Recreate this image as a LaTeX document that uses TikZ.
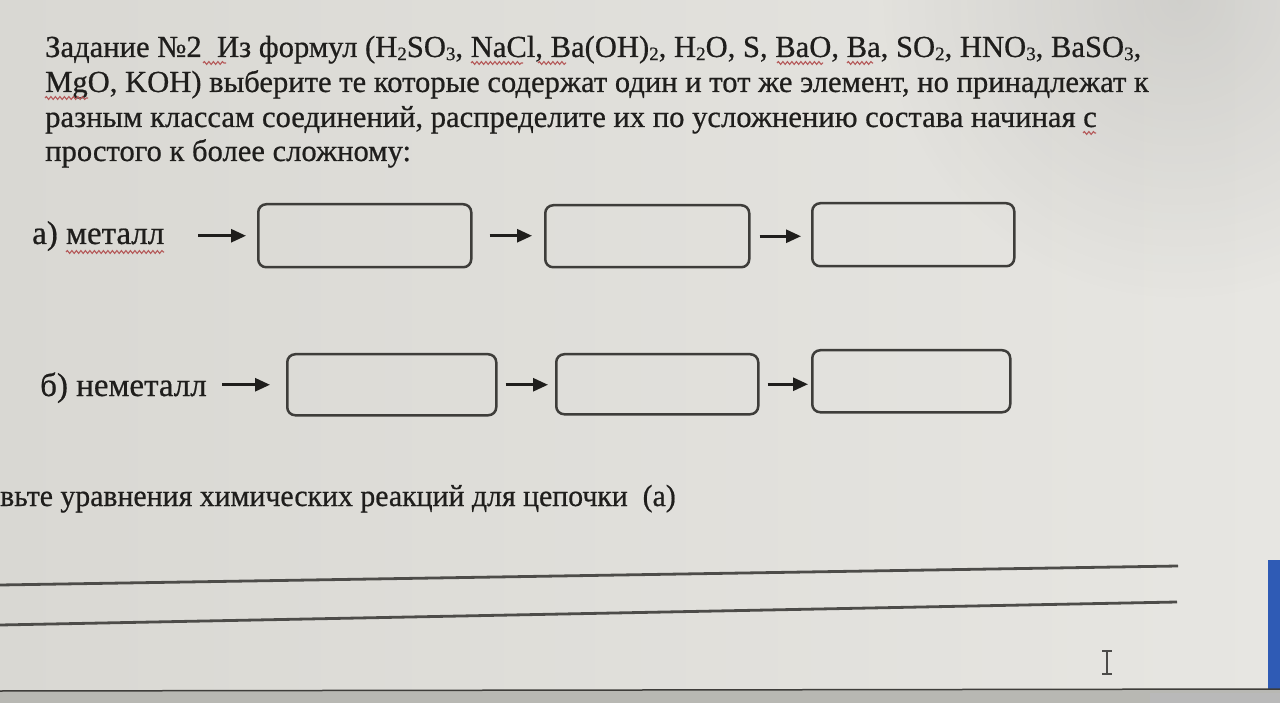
\documentclass[tikz,border=0pt]{standalone}
\usepackage{fontspec}
\setmainfont{Liberation Serif}[FakeBold=0.6]
\usetikzlibrary{arrows.meta,decorations.pathmorphing,calc,fadings}
\definecolor{paper}{HTML}{D9D8D3}
\definecolor{paperlight}{HTML}{E7E6E2}
\definecolor{ink}{HTML}{1F1E1C}
\definecolor{boxline}{HTML}{3E3D3A}
\definecolor{squig}{HTML}{B55A5A}
\definecolor{winblue}{HTML}{2F5BB5}
\tikzfading[name=softglow, inner color=transparent!0, outer color=transparent!100]
\newcommand{\sbs}[1]{\raisebox{-0.22ex}{\fontsize{19}{20}\selectfont #1}}
\tikzset{
  txt/.style={anchor=base west,inner sep=0pt,text=ink,font=\fontsize{30.6}{36}\selectfont},
  bigtxt/.style={txt,font=\fontsize{33}{38}\selectfont},
  narrowtxt/.style={txt,font=\fontsize{30.6}{36}\selectfont\addfontfeature{FakeStretch=0.974}},
  chainbox/.style={draw=boxline,line width=2.5pt,rounded corners=8pt,anchor=north west,inner sep=0pt},
  arr/.style={draw=ink,line width=2.8pt,-{Triangle[length=15pt,width=13pt]}},
  wavy/.style={draw=squig,line width=1.1pt,decorate,decoration={snake,amplitude=1.4pt,segment length=4.5pt}},
  rule/.style={draw=boxline!90!paper,line width=2.8pt},
}
\begin{document}
\begin{tikzpicture}[x=1pt,y=-1pt]
\useasboundingbox (0,0) rectangle (1280,703);
% background
\shade[left color=paper,right color=paperlight] (0,0) rectangle (1280,703);
\fill[black!70,opacity=0.14,path fading=softglow] (880,-300) rectangle (1480,300);
% blue window edge and status bar
\fill[winblue] (1268,560) rectangle (1280,692);
\fill[paper!85!black] (0,690) rectangle (1280,703);
\draw[boxline,line width=1.5pt] (0,691) -- (1280,689);
\fill[gray!55] (1150,693) rectangle (1280,703);

% task text
\node[txt] (t1) at (45,57) {Задание №2\ \ Из формул (H\sbs{2}SO\sbs{3}, NaCl, Ba(OH)\sbs{2}, H\sbs{2}O, S, BaO, Ba, SO\sbs{2}, HNO\sbs{3}, BaSO\sbs{3},};
\node[txt] (t2) at (45,92) {MgO, KOH) выберите те которые содержат один и тот же элемент, но принадлежат к};
\node[txt] (t3) at (45,127) {разным классам соединений, распределите их по усложнению состава начиная с};
\node[txt] (t4) at (45,161) {простого к более сложному:};

% row a
\node[bigtxt] (la) at (32,244) {а) металл};
\node[chainbox,minimum width=213pt,minimum height=63pt] (a1) at (257,203) {};
\node[chainbox,minimum width=204pt,minimum height=62pt] (a2) at (544,204) {};
\node[chainbox,minimum width=202pt,minimum height=63pt] (a3) at (811,202) {};
\draw[arr] ([xshift=-59pt]a1.west) -- ([xshift=-11pt]a1.west);
\draw[arr] ([xshift=17pt]a1.east) -- ([xshift=-12pt]a1.east -| a2.west);
\draw[arr] ([xshift=9pt]a2.east) -- ([xshift=-10pt]a2.east -| a3.west);

% row b
\node[bigtxt] (lb) at (40,396) {б) неметалл};
\node[chainbox,minimum width=209pt,minimum height=61pt] (b1) at (286,353) {};
\node[chainbox,minimum width=202pt,minimum height=60pt] (b2) at (555,353) {};
\node[chainbox,minimum width=198pt,minimum height=62pt] (b3) at (811,349) {};
\draw[arr] ([xshift=-64pt]b1.west) -- ([xshift=-16pt]b1.west);
\draw[arr] ([xshift=8pt]b1.east) -- ([xshift=-7pt]b1.east -| b2.west);
\draw[arr] ([xshift=8pt]b2.east) -- ([xshift=-3pt]b2.east -| b3.west);

% second task line
\node[narrowtxt] (t5) at (0,506) {вьте уравнения химических реакций для цепочки\ \ (а)};

% answer rules
\coordinate (r1s) at (0,585);
\coordinate (r1e) at (1178,566);
\coordinate (r2s) at (0,625);
\coordinate (r2e) at (1177,602);
\draw[rule] (r1s) -- (r1e);
\draw[rule] (r2s) -- (r2e);

% spell-check squiggles
\draw[wavy] (203,63) -- (226,63);
\draw[wavy] (471,63) -- (523,63);
\draw[wavy] (538,63) -- (566,63);
\draw[wavy] (777,63) -- (823,63);
\draw[wavy] (847,63) -- (873,63);
\draw[wavy] (45,98) -- (88,98);
\draw[wavy] (1083,133) -- (1096,133);
\draw[wavy] (66,252) -- (164,252);

% text cursor
\draw[ink!80,line width=1.6pt] (1107,651) -- (1107,674) (1102,651) -- (1112,651) (1102,674) -- (1112,674);
\end{tikzpicture}
\end{document}
